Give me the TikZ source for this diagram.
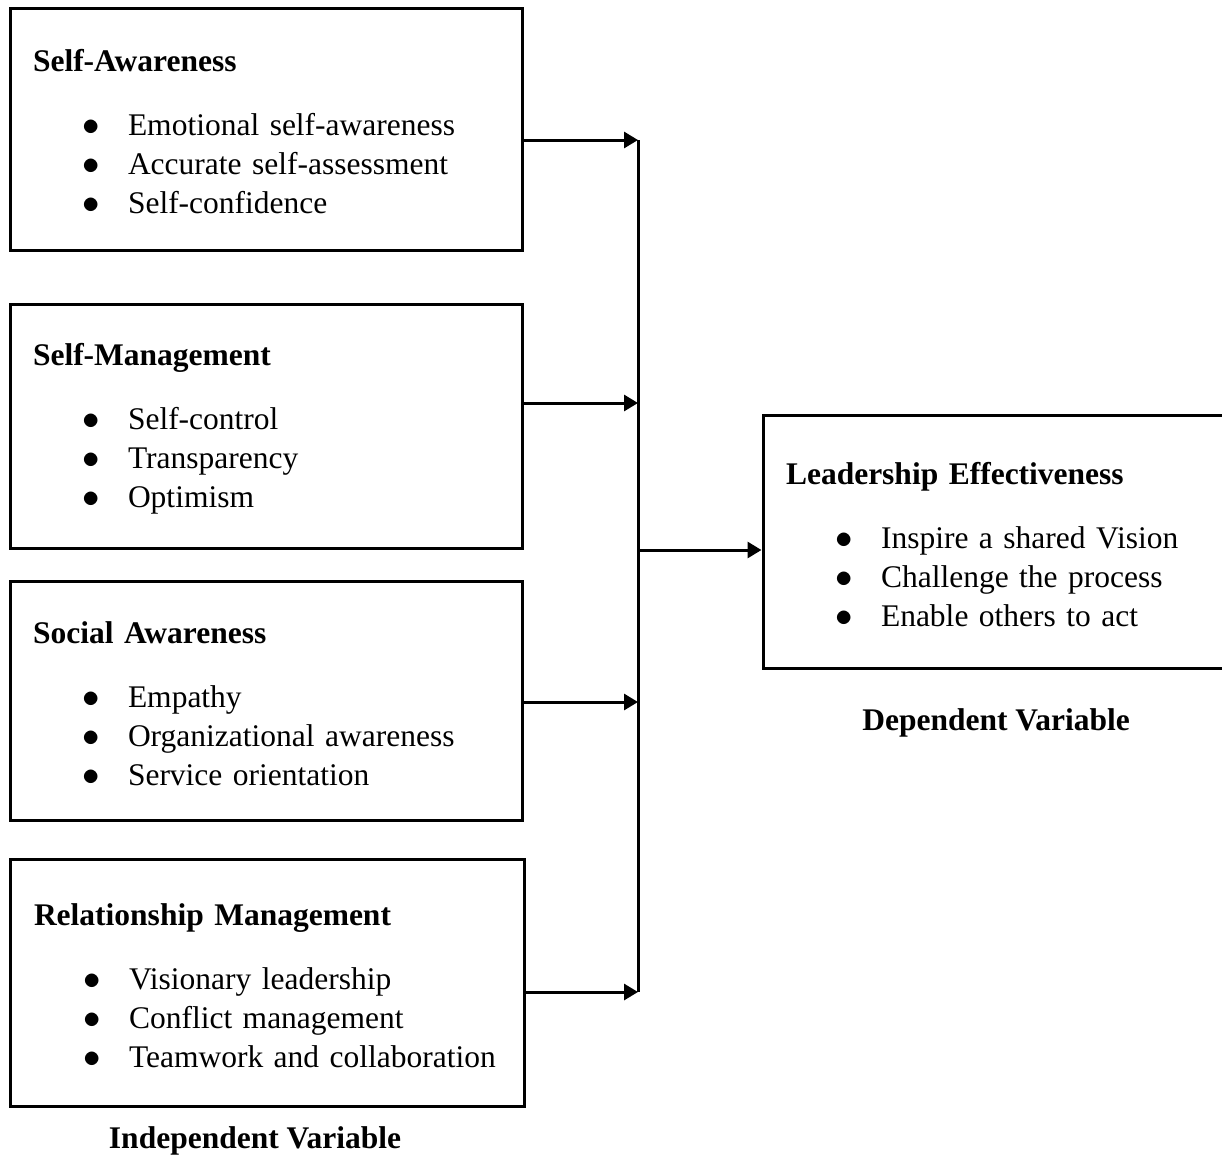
\documentclass[tikz,border=0pt]{standalone}
\usepackage{fontspec}
\setmainfont{Liberation Serif}
\usetikzlibrary{arrows.meta, positioning}
\newcommand{\itm}[1]{\hspace*{49pt}\makebox[46pt][l]{\scalebox{1.4}{$\bullet$}}#1}
\newcommand{\ttl}[1]{\rule{0pt}{28pt}\textbf{#1}}

\begin{document}
\begin{tikzpicture}[x=1pt, y=-1pt,
  vbox/.style={draw, line width=3pt, minimum width=512pt, text width=466pt, align=left, inner xsep=23pt, font=\fontsize{31.5}{39}\selectfont},
  link/.style={line width=3pt, -{Triangle[length=14pt,width=16pt]}},
  caption/.style={font=\fontsize{31.5}{39}\selectfont\bfseries}
]
\useasboundingbox (0,0) rectangle (1222,1154);

% independent variables
\node[vbox, minimum height=242pt] (aware) at (266,129) {
  \ttl{Self-Awareness}\\[25pt]
  \itm{Emotional self-awareness}\\
  \itm{Accurate self-assessment}\\
  \itm{Self-confidence}
};
\node[vbox, minimum height=244pt] (manage) at (266,426) {
  \ttl{Self-Management}\\[25pt]
  \itm{Self-control}\\
  \itm{Transparency}\\
  \itm{Optimism}
};
\node[vbox, minimum height=239pt] (social) at (266,700.5) {
  \ttl{Social Awareness}\\[25pt]
  \itm{Empathy}\\
  \itm{Organizational awareness}\\
  \itm{Service orientation}
};
\node[vbox, minimum height=247pt, minimum width=514pt] (relation) at (267,982.5) {
  \ttl{Relationship Management}\\[25pt]
  \itm{Visionary leadership}\\
  \itm{Conflict management}\\
  \itm{Teamwork and collaboration}
};

% dependent variable
\node[vbox, minimum height=253pt, minimum width=469pt, text width=423pt] (leader) at (997.5,541.5) {
  \ttl{Leadership Effectiveness}\\[25pt]
  \itm{Inspire a shared Vision}\\
  \itm{Challenge the process}\\
  \itm{Enable others to act}
};

\node[caption] (indep) at (255,1141) {Independent Variable};
\node[caption] (dep) at (996,723) {Dependent Variable};

% bus
\coordinate (b1) at (638,140);
\coordinate (b2) at (638,403);
\coordinate (b3) at (638,702);
\coordinate (b4) at (638,992);
\coordinate (bm) at (638,550);

\draw[line width=3pt] (b1) -- (b4);
\draw[link] (aware.east |- b1) -- (b1);
\draw[link] (manage.east |- b2) -- (b2);
\draw[link] (social.east |- b3) -- (b3);
\draw[link] (relation.east |- b4) -- (b4);
\draw[link] (bm) -- (leader.west |- bm);
\end{tikzpicture}
\end{document}
